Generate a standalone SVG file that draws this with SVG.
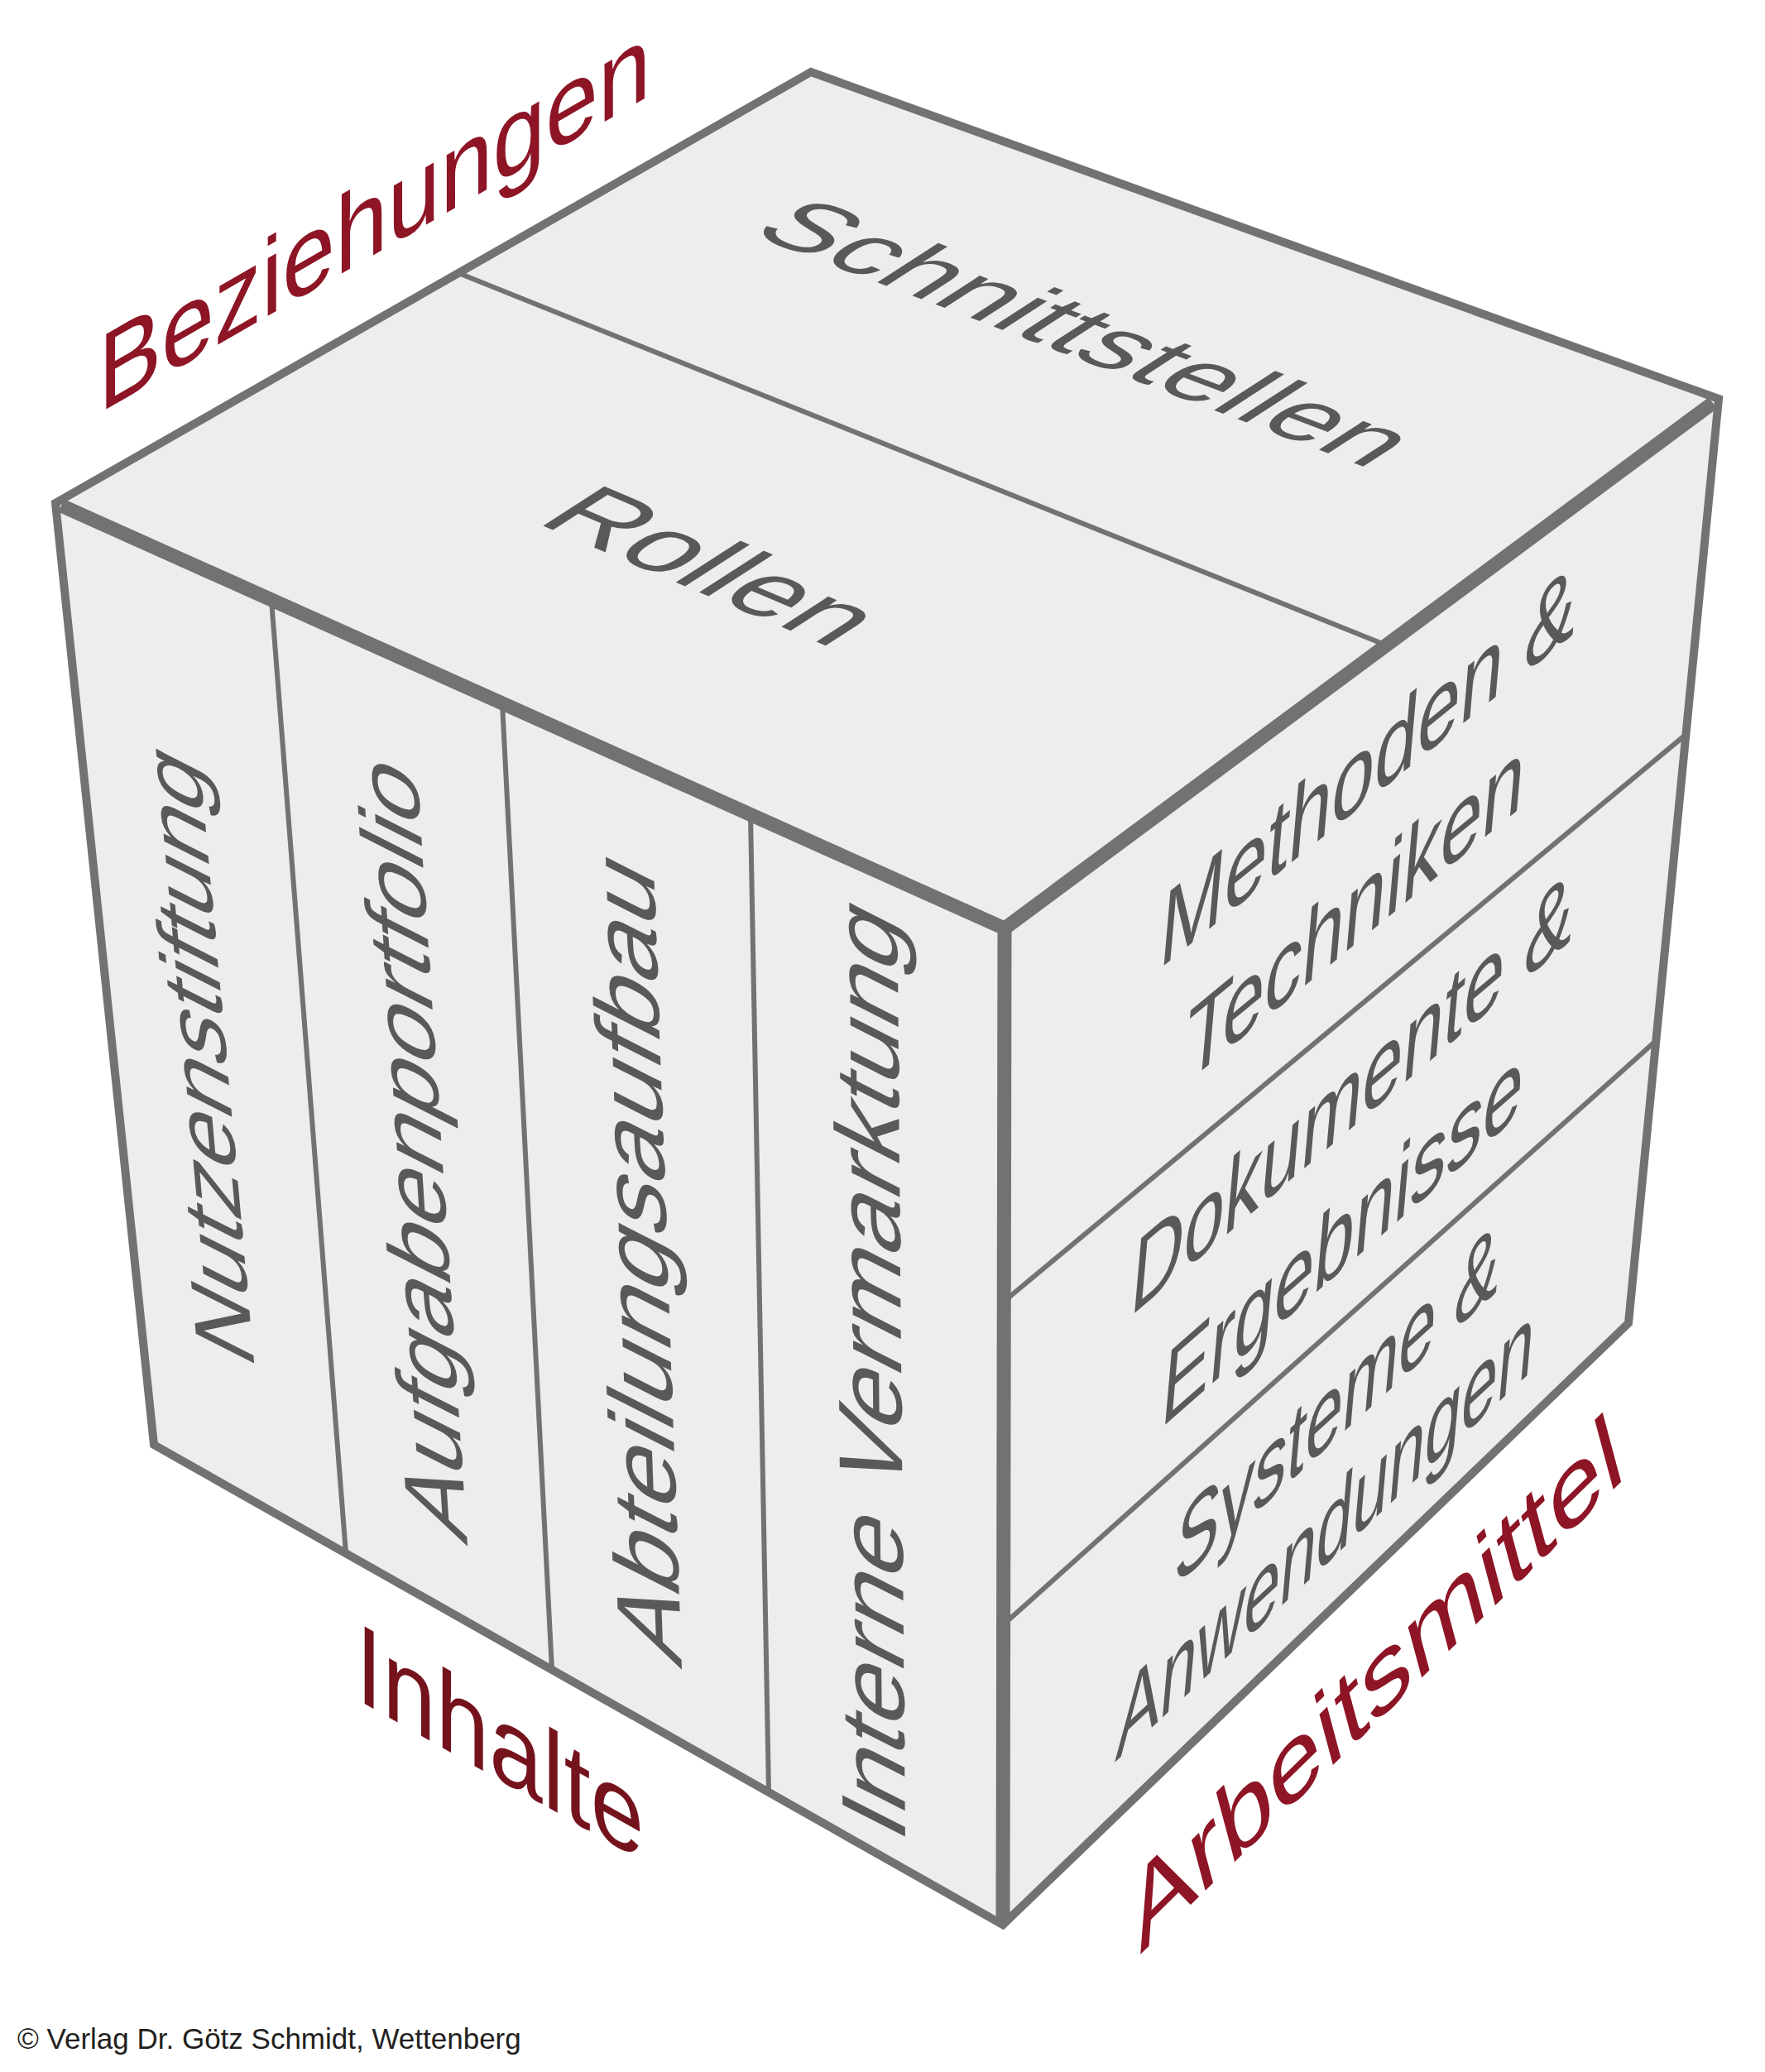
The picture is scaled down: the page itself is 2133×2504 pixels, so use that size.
<svg xmlns="http://www.w3.org/2000/svg" width="2133" height="2504" viewBox="0 0 2133 2504">
<style>
.face{fill:#ededed;stroke:none}
.outline{fill:none;stroke:#717274;stroke-width:10;stroke-linejoin:miter;stroke-miterlimit:10}
.div{stroke:#717274;stroke-width:6;fill:none}
.edge{stroke:#717274;stroke-width:17;fill:none;stroke-linejoin:miter;stroke-miterlimit:10}
.t{font-family:"Liberation Sans",Arial,sans-serif;fill:#58595b}
.r{font-family:"Liberation Sans",Arial,sans-serif;fill:#8d1526}
.ri{font-family:"Liberation Sans",Arial,sans-serif;fill:#74131c}
.c{font-family:"Liberation Sans",Arial,sans-serif;fill:#231f20;font-size:35px}
</style>
<rect width="2133" height="2504" fill="#ffffff"/>
<g id="faces">
  <g id="top-face"><polygon class="face" points="980,87 67,608 1214,1122 2077,482"/></g>
  <g id="left-face"><polygon class="face" points="67,608 1214,1122 1212,2326 186,1746"/></g>
  <g id="right-face"><polygon class="face" points="1214,1122 2077,482 1968,1599 1212,2326"/></g>
</g>
<g id="connectors">
  <line class="div" x1="554" y1="330" x2="1676" y2="780"/>
  <line class="div" x1="328" y1="725" x2="418" y2="1877"/>
  <line class="div" x1="607" y1="850" x2="667" y2="2018"/>
  <line class="div" x1="907" y1="985" x2="929" y2="2166"/>
  <line class="div" x1="1213" y1="1573" x2="2037" y2="888"/>
  <line class="div" x1="1213" y1="1963" x2="2001" y2="1258"/>
  <polygon class="outline" points="980,87 67,608 186,1746 1212,2326 1968,1599 2077,482"/>
  <polyline class="edge" points="74,611 1214,1122 2070,487"/>
  <line class="edge" x1="1214" y1="1122" x2="1212" y2="2320"/>
</g>
<g id="node-schnittstellen"><text class="t" font-size="121" transform="matrix(1.0443 0.3960 -0.84 0.543 904 282)">Schnittstellen</text></g>
<g id="node-rollen"><text class="t" font-size="128" transform="matrix(0.9924 0.4212 -0.841 0.541 646 631)">Rollen</text></g>
<g id="node-nutzenstiftung"><text class="t" font-size="115" transform="matrix(-0.090 -0.996 0.891 0.454 308 1657)">Nutzenstiftung</text></g>
<g id="node-aufgabenportfolio"><text class="t" font-size="119" transform="matrix(-0.065 -0.998 0.891 0.454 565 1869)">Aufgabenportfolio</text></g>
<g id="node-abteilungsaufbau"><text class="t" font-size="124.5" transform="matrix(-0.035 -0.999 0.891 0.454 824 2018)">Abteilungsaufbau</text></g>
<g id="node-interne-vermarktung"><text class="t" font-size="123.5" transform="matrix(-0.0085 -1 0.891 0.454 1094 2231)">Interne Vermarktung</text></g>
<g id="node-methoden">
  <text class="t" font-size="132" transform="matrix(0.7065 -0.5721 -0.087 0.996 1399 1173)">Methoden &amp;</text>
  <text class="t" font-size="132" transform="matrix(0.6898 -0.5686 -0.087 0.996 1429 1313)">Techniken</text>
</g>
<g id="node-dokumente">
  <text class="t" font-size="132" transform="matrix(0.6682 -0.5707 -0.087 0.996 1364 1593)">Dokumente &amp;</text>
  <text class="t" font-size="132" transform="matrix(0.6612 -0.5789 -0.087 0.996 1401 1728)">Ergebnisse</text>
</g>
<g id="node-systeme">
  <text class="t" font-size="132" transform="matrix(0.6144 -0.5630 -0.087 0.996 1417 1920)">Systeme &amp;</text>
  <text class="t" font-size="132" transform="matrix(0.5965 -0.5601 -0.087 0.996 1347 2130)">Anwendungen</text>
</g>
<g id="label-beziehungen"><text class="r" font-size="132" transform="matrix(0.866 -0.5 0 1 119 500)">Beziehungen</text></g>
<g id="label-inhalte"><text class="ri" font-size="136" transform="matrix(0.853 0.482 0 1 430 2053)">Inhalte</text></g>
<g id="label-arbeitsmittel"><text class="r" font-size="120" transform="matrix(0.891 -0.876 0.259 0.966 1378 2362)">Arbeitsmittel</text></g>
<g id="copyright"><text class="c" x="21" y="2476">© Verlag Dr. Götz Schmidt, Wettenberg</text></g>
</svg>
